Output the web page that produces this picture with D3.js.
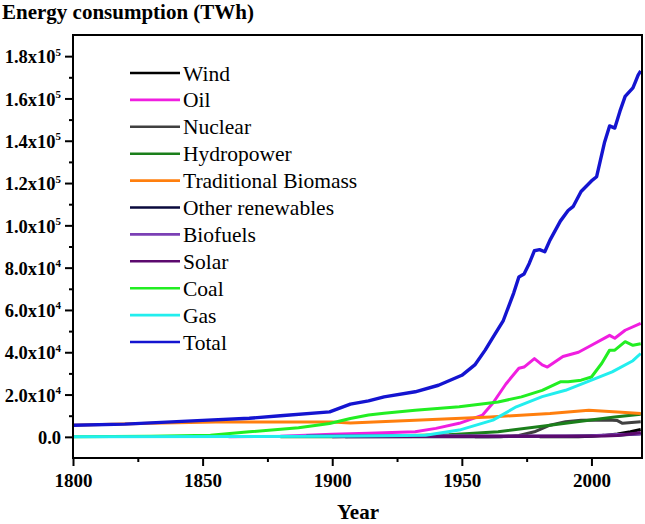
<!DOCTYPE html>
<html>
<head>
<meta charset="utf-8">
<script src="https://cdn.jsdelivr.net/npm/d3@7"></script>
<style>
  body { margin: 0; background: #fff; }
  svg { display: block; }
</style>
</head>
<body>
<div id="chart"></div>
<script>
// energy series, [year, TWh]
var wind = [[1980,0],[1995,100],[2000,300],[2005,700],[2010,1400],[2015,2400],[2019,3500]];
var oil = [[1860,0],[1880,300],[1900,1200],[1914,1700],[1932,2400],[1940,4000],[1949,6400],[1958,10300],[1962,16000],[1967,25000],[1972,32400],[1974,33000],[1978,37000],[1981,34000],[1983,33000],[1989,38000],[1995,40000],[2000,43300],[2007,48000],[2009,46600],[2013,50400],[2019,53700]];
var nuclear = [[1955,0],[1965,100],[1972,600],[1978,2400],[1984,5500],[1990,7200],[1996,7900],[2006,8000],[2010,7700],[2012,6400],[2019,7100]];
var hydro = [[1880,0],[1900,100],[1920,400],[1945,1000],[1964,2400],[1984,5500],[1999,7900],[2009,9400],[2019,10700]];
var biomass = [[1800,5500],[1830,6400],[1855,7000],[1900,7000],[1907,6600],[1932,7900],[1961,9400],[1984,11000],[1999,12600],[2010,11800],[2019,11000]];
var otherRen = [[1905,0],[1960,100],[1990,300],[2010,800],[2019,1500]];
var biofuels = [[1890,600],[1950,500],[1990,400],[2000,500],[2010,1100],[2019,1300]];
var solar = [[1900,0],[1985,300],[2005,400],[2010,600],[2015,1300],[2019,2100]];
var coal = [[1800,100],[1830,300],[1853,800],[1868,2400],[1887,4300],[1899,6300],[1907,8700],[1914,10300],[1920,11200],[1932,12600],[1949,14200],[1964,16500],[1973,18900],[1981,22000],[1988,26000],[1991,26000],[1996,26800],[2000,28300],[2004,34800],[2007,41000],[2009,41000],[2013,45000],[2016,43300],[2019,44000]];
var gas = [[1800,0],[1900,300],[1920,500],[1936,800],[1949,3200],[1962,7900],[1971,14200],[1981,19000],[1990,22000],[2000,26800],[2008,30700],[2016,36000],[2019,39400]];
var total = [[1800,5500],[1820,6000],[1830,6600],[1850,7800],[1868,8800],[1880,10000],[1899,11800],[1907,15500],[1914,17000],[1920,18900],[1932,21300],[1941,24400],[1950,29100],[1955,34000],[1959,41000],[1962,47000],[1966,55000],[1970,68000],[1972,75600],[1974,77000],[1976,82000],[1978,88000],[1980,88500],[1982,87500],[1984,93000],[1988,102000],[1991,107000],[1993,109000],[1996,116000],[2000,121000],[2002,123000],[2005,139000],[2007,147000],[2009,146000],[2011,154000],[2013,161000],[2016,165000],[2017,168000],[2018,171000],[2019,173000]];

var seriesNames = ["Wind","Oil","Nuclear","Hydropower","Traditional Biomass","Other renewables","Biofuels","Solar","Coal","Gas","Total"];
var seriesData = [wind, oil, nuclear, hydro, biomass, otherRen, biofuels, solar, coal, gas, total];
var seriesColors = ["#000000","#f01ee0","#404040","#1b7f1b","#ff7f0e","#0a0a3c","#7b3fb5","#5c0a6e","#22ee22","#22eeee","#1414d0"];

var yMajor = [0,20000,40000,60000,80000,100000,120000,140000,160000,180000];
var xMajor = [1800,1850,1900,1950,2000];

var W = 645, H = 524;
var margin = { top: 35, right: 3, bottom: 66, left: 73 };
var width = W - margin.left - margin.right;
var height = H - margin.top - margin.bottom;
var serif = "'Liberation Serif','Times New Roman',serif";

var svg = d3.select("#chart").append("svg")
  .attr("width", W)
  .attr("height", H);

var g = svg.append("g").attr("transform", "translate(" + margin.left + "," + margin.top + ")");

var x = d3.scaleLinear().domain([1800, 2019.5]).range([0, width]);
var y = d3.scaleLinear().domain([-10000, 190000]).range([height, 0]);

// lines first, frame on top
var line = d3.line()
  .x(function(d) { return x(d[0]); })
  .y(function(d) { return y(d[1]); });

for (var i = 0; i < seriesData.length; i++) {
  g.append("path")
    .datum(seriesData[i])
    .attr("d", line)
    .attr("fill", "none")
    .attr("stroke", seriesColors[i])
    .attr("stroke-width", i == seriesData.length - 1 ? 3.4 : 3)
    .attr("stroke-linejoin", "round");
}

g.append("rect")
  .attr("width", width)
  .attr("height", height)
  .attr("fill", "none")
  .attr("stroke", "#000")
  .attr("stroke-width", 2);

// minor ticks
var yMinor = d3.range(10000, 190000, 20000);
g.append("g")
  .call(d3.axisLeft(y).tickValues(yMinor).tickSize(4).tickFormat(""))
  .call(function(a) { a.select(".domain").remove(); a.selectAll("line").attr("stroke-width", 2); });
g.append("g")
  .attr("transform", "translate(0," + height + ")")
  .call(d3.axisBottom(x).tickValues([1825,1875,1925,1975]).tickSize(4).tickFormat(""))
  .call(function(a) { a.select(".domain").remove(); a.selectAll("line").attr("stroke-width", 2); });

// y axis with superscript labels
var yAxis = g.append("g")
  .call(d3.axisLeft(y).tickValues(yMajor).tickSize(8).tickPadding(4).tickFormat(""));
yAxis.select(".domain").remove();
yAxis.selectAll("line").attr("stroke-width", 2);
yAxis.selectAll(".tick text").each(function(d) {
  var t = d3.select(this)
    .attr("font-family", serif)
    .attr("font-weight", "bold")
    .attr("font-size", 18.5)
    .attr("fill", "#000")
    .attr("dy", "0.36em");
  if (d == 0) { t.text("0.0"); return; }
  var e = Math.floor(Math.log10(d));
  var m = (d / Math.pow(10, e)).toFixed(1);
  t.append("tspan").text(m + "x10");
  t.append("tspan").attr("dy", "-0.7em").attr("font-size", 11).text(e);
});

var xAxis = g.append("g")
  .attr("transform", "translate(0," + height + ")")
  .call(d3.axisBottom(x).tickValues(xMajor).tickSize(8).tickPadding(8).tickFormat(d3.format("d")));
xAxis.select(".domain").remove();
xAxis.selectAll("line").attr("stroke-width", 2);
xAxis.selectAll("text")
  .attr("font-family", serif)
  .attr("font-weight", "bold")
  .attr("font-size", 19)
  .attr("fill", "#000");

// titles
svg.append("text")
  .attr("x", 2)
  .attr("y", 19)
  .attr("font-family", serif)
  .attr("font-weight", "bold")
  .attr("font-size", 21)
  .text("Energy consumption (TWh)");

svg.append("text")
  .attr("x", 358)
  .attr("y", 519)
  .attr("text-anchor", "middle")
  .attr("font-family", serif)
  .attr("font-weight", "bold")
  .attr("font-size", 21)
  .text("Year");

// legend
var legend = svg.append("g");
for (var i = 0; i < seriesNames.length; i++) {
  var ly = 73 + i * 26.9;
  legend.append("line")
    .attr("x1", 130).attr("x2", 180)
    .attr("y1", ly).attr("y2", ly)
    .attr("stroke", seriesColors[i])
    .attr("stroke-width", 2.6);
  legend.append("text")
    .attr("x", 183)
    .attr("y", ly)
    .attr("dy", "0.35em")
    .attr("font-family", serif)
    .attr("font-size", 21.5)
    .text(seriesNames[i]);
}
</script>
</body>
</html>
